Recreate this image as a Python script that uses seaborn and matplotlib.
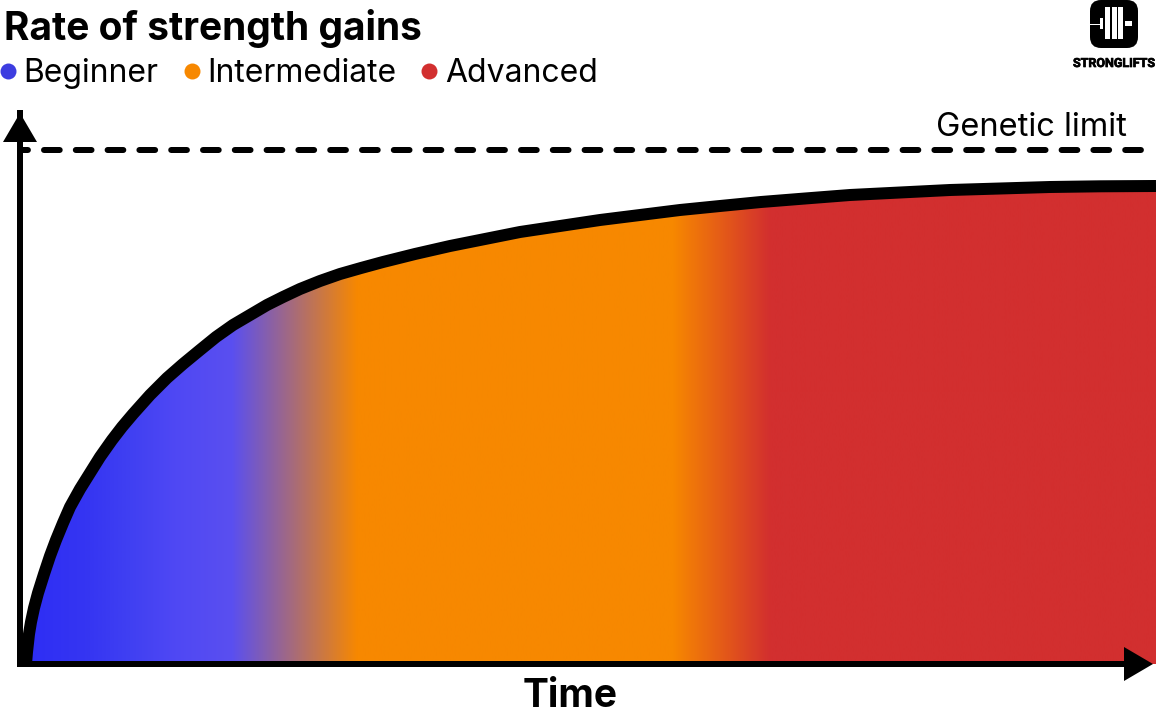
import numpy as np
import matplotlib
matplotlib.use('Agg')
import matplotlib.pyplot as plt
import seaborn as sns
import matplotlib.patheffects as pe
from matplotlib.colors import LinearSegmentedColormap
from matplotlib.lines import Line2D
from matplotlib.patches import Polygon, Rectangle, FancyBboxPatch

# values, the chart has no scale so the units are arbitrary
time_vals = [6, 7, 9, 11, 14, 18, 24, 30, 36, 43, 50, 60, 70, 80, 92, 102, 113, 130, 147, 163,
             180, 196, 213, 230, 247, 263, 280, 300, 320, 341, 363, 395, 430, 465, 500, 540, 580,
             620, 660, 700, 741, 785, 830, 880, 930, 980, 1030, 1080, 1136]
strength_vals = [0, 12, 30, 42, 56, 71, 90, 108, 124, 141, 157, 175, 191, 207, 224, 237, 250, 269, 286, 300,
                 314, 327, 339, 349, 359, 367, 375, 383, 390, 396, 402, 410, 418, 425, 432, 438, 444,
                 449, 454, 458, 462, 465.5, 469, 471.5, 474, 475.5, 477, 477.7, 478]
genetic_limit = 514
time_max = 1136
strength_max = 551

# gradient stops along the time axis
grad_times = [0, 65, 110, 155, 212, 337, 653, 750, 1136]
grad_colors = ['#2d2df5', '#3535f2', '#4040f2', '#4f48f4', '#5a4ff0', '#f78800', '#f78800', '#d22f2f', '#d22f2f']

levels = ['Beginner', 'Intermediate', 'Advanced']
level_colors = ['#3d3de0', '#f78800', '#d22f2f']

W, H = 1156, 720

sns.set_theme(style='white')
plt.rcParams['font.family'] = ['Inter', 'DejaVu Sans']

fig = plt.figure(figsize=(W / 100, H / 100), dpi=100)
ax = fig.add_axes([20 / W, (H - 664) / H, 1136 / W, 551 / H])
ax.set_xlim(0, time_max)
ax.set_ylim(0, strength_max)
ax.set_xticks([])
ax.set_yticks([])
ax.patch.set_alpha(0)

# gradient under the curve
stops = [(t / time_max, c) for t, c in zip(grad_times, grad_colors)]
cmap = LinearSegmentedColormap.from_list('gains', stops, N=1024)
im = ax.imshow(np.linspace(0, 1, 2048).reshape(1, -1), cmap=cmap,
               extent=[0, time_max, 0, strength_max], aspect='auto', zorder=1)
area = ax.fill_between(time_vals, strength_vals, 0, color='none')
im.set_clip_path(area.get_paths()[0], transform=ax.transData)

sns.lineplot(x=time_vals, y=strength_vals, color='black', lw=8.64, ax=ax, zorder=3,
             solid_joinstyle='round', solid_capstyle='butt')
ax.axhline(genetic_limit, color='black', lw=4.32, zorder=3, dash_capstyle='round',
           linestyle=(1.3, (2.62, 2.68)))

for side in ['top', 'right']:
    ax.spines[side].set_visible(False)
for side in ['left', 'bottom']:
    ax.spines[side].set_color('black')
    ax.spines[side].set_linewidth(4.32)
    ax.spines[side].set_zorder(4)
ax.spines['bottom'].set_bounds(0, 1115)

# overlay in pixel units for arrow heads, logo and texts
deco = fig.add_axes([0, 0, 1, 1])
deco.set_xlim(0, W)
deco.set_ylim(H, 0)
deco.axis('off')

deco.add_patch(Polygon([(20, 113), (3, 142), (37, 142)], closed=True, fc='black', ec='none'))
deco.add_patch(Polygon([(1153, 664), (1124, 647), (1124, 681)], closed=True, fc='black', ec='none'))

deco.text(4, 40, 'Rate of strength gains', fontsize=28, fontweight='bold', color='black', va='baseline')
deco.text(523, 707, 'Time', fontsize=28, fontweight='bold', color='black', va='baseline')
deco.text(936, 136, 'Genetic limit', fontsize=23.5, color='black', va='baseline')

handles = [Line2D([], [], ls='none', marker='o', ms=11.5, color=c, mew=0) for c in level_colors]
fig.legend(handles, levels, loc='upper left', bbox_to_anchor=(0, 1 - 58 / H), ncol=3, frameon=False, fontsize=23,
           borderpad=0, borderaxespad=0, handlelength=0.5, handletextpad=0.24, columnspacing=0.78,
           labelcolor='black')

# logo
deco.add_patch(FancyBboxPatch((1101, 11), 26, 26, boxstyle='round,pad=11,rounding_size=11', fc='black', ec='none'))
for bx, by, bw, bh in [(1090, 23.5, 10, 1.5), (1100, 18, 2.5, 11), (1105, 7, 4.5, 32), (1112, 7, 4.5, 32),
                       (1118, 7, 4.7, 32), (1125, 21, 6.7, 5)]:
    deco.add_patch(Rectangle((bx, by), bw, bh, fc='white', ec='none'))
deco.text(1073, 67, 'STRONGLIFTS', fontsize=9, fontweight='bold', family='Roboto', color='black', va='baseline',
          path_effects=[pe.withStroke(linewidth=0.5, foreground='black')])

fig.savefig('out.png', dpi=100)
